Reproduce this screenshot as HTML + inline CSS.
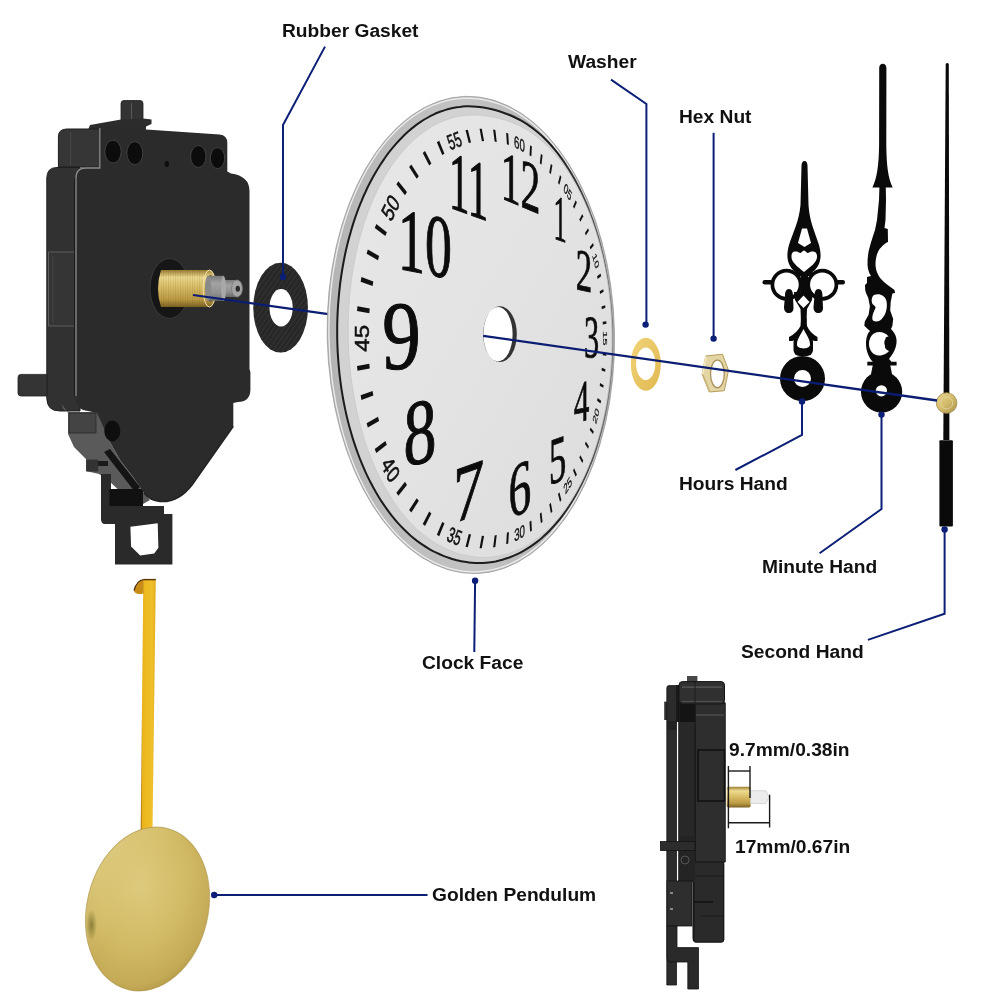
<!DOCTYPE html>
<html><head><meta charset="utf-8"><style>
html,body{margin:0;padding:0;background:#fff}
body{width:1001px;height:1001px;position:relative;overflow:hidden}
svg{position:absolute;left:0;top:0;will-change:transform}
.sn{font-family:"Liberation Sans",sans-serif;font-size:17px;fill:#111;stroke:#111;stroke-width:0.45px}
.bn{font-family:"Liberation Serif",serif;fill:#0c0c0c;stroke:#0c0c0c;stroke-width:0.9px}
.lbl{position:absolute;font-family:"Liberation Sans",sans-serif;font-weight:bold;font-size:19.2px;color:#111;white-space:nowrap;line-height:1;will-change:transform}
</style></head><body>
<svg width="1001" height="1001" viewBox="0 0 1001 1001">
<defs>
<linearGradient id="rimg" x1="0" y1="0" x2="1" y2="0">
 <stop offset="0" stop-color="#b4b4b4"/><stop offset="0.5" stop-color="#c4c4c4"/><stop offset="1" stop-color="#a9a9a9"/>
</linearGradient>
<linearGradient id="darkg" x1="330" y1="0" x2="615" y2="0" gradientUnits="userSpaceOnUse">
 <stop offset="0" stop-color="#1a1a1a"/><stop offset="0.8" stop-color="#1e1e1e"/><stop offset="0.93" stop-color="#555"/><stop offset="1" stop-color="#8a8a8a"/>
</linearGradient>
<linearGradient id="faceg" x1="0" y1="0" x2="1" y2="1">
 <stop offset="0" stop-color="#e7e7e7"/><stop offset="0.5" stop-color="#e3e3e3"/><stop offset="1" stop-color="#dcdcdc"/>
</linearGradient>
<linearGradient id="brass" x1="0" y1="0" x2="0" y2="1">
 <stop offset="0" stop-color="#9a7c30"/><stop offset="0.2" stop-color="#eedc92"/><stop offset="0.45" stop-color="#dcc06a"/><stop offset="0.8" stop-color="#bc9a44"/><stop offset="1" stop-color="#7a6022"/>
</linearGradient>
<pattern id="gstripe" width="4" height="4" patternUnits="userSpaceOnUse" patternTransform="rotate(35)"><rect width="1.2" height="4" fill="#3a3a3a" opacity="0.6"/></pattern>
<pattern id="thr" width="2.4" height="10" patternUnits="userSpaceOnUse"><rect width="1" height="10" fill="#6a5418" opacity="0.18"/></pattern>
<linearGradient id="gshaft" x1="0" y1="0" x2="0" y2="1">
 <stop offset="0" stop-color="#7a7a7a"/><stop offset="0.3" stop-color="#a2a2a2"/><stop offset="0.7" stop-color="#909090"/><stop offset="1" stop-color="#6a6a6a"/>
</linearGradient>
<linearGradient id="rod" x1="0" y1="0" x2="1" y2="0">
 <stop offset="0" stop-color="#8a5a08"/><stop offset="0.1" stop-color="#e8b21c"/><stop offset="0.3" stop-color="#ecb820"/><stop offset="0.75" stop-color="#f0c02a"/><stop offset="1" stop-color="#e2ac1c"/>
</linearGradient>
<radialGradient id="bob" cx="0.42" cy="0.38" r="0.7">
 <stop offset="0" stop-color="#ddc97c"/><stop offset="0.5" stop-color="#d2bb66"/><stop offset="0.85" stop-color="#c4aa56"/><stop offset="1" stop-color="#aa9242"/>
</radialGradient>
<linearGradient id="bobhl" x1="0" y1="0" x2="1" y2="0.6">
 <stop offset="0" stop-color="#f2e6b0" stop-opacity="0.55"/><stop offset="0.25" stop-color="#ecdc9c" stop-opacity="0.25"/><stop offset="0.5" stop-color="#e8d890" stop-opacity="0"/>
</linearGradient>
<radialGradient id="bobspot" cx="0.5" cy="0.5" r="0.5">
 <stop offset="0" stop-color="#5e5818" stop-opacity="0.6"/><stop offset="1" stop-color="#5e5818" stop-opacity="0"/>
</radialGradient>
<linearGradient id="wash" x1="0" y1="0" x2="1" y2="1">
 <stop offset="0" stop-color="#f2d47a"/><stop offset="1" stop-color="#e0b850"/>
</linearGradient>
<linearGradient id="hub2" x1="0" y1="0" x2="1" y2="1">
 <stop offset="0" stop-color="#e6d490"/><stop offset="0.5" stop-color="#d4bc6c"/><stop offset="1" stop-color="#a8904a"/>
</linearGradient>
</defs>

<!-- ===== big movement ===== -->
<g id="mov">
 <!-- knob & ledge -->
 <rect x="121" y="100.5" width="22" height="24" rx="3" fill="#333" stroke="#1e1e1e" stroke-width="0.8"/>
 <line x1="131.5" y1="103" x2="131.5" y2="119" stroke="#5a5a5a" stroke-width="1"/>
 <path d="M88,130 L90,125 L121,119.5 L143,118.5 L151.5,119.5 L151.5,124 L146,126.5 L146,131 Z" fill="#2c2c2c"/>
 <!-- upper-left block -->
 <path d="M58.4,167 L58.4,137 Q58.4,129 67,129 L101,129 L101,167 Z" fill="#363636" stroke="#1e1e1e" stroke-width="1"/>
 <line x1="70.5" y1="132" x2="70.5" y2="165" stroke="#4a4a4a" stroke-width="0.8"/>
 <!-- left side body -->
 <path d="M46.8,398 L46.8,178 Q46.8,167.5 57,167.5 L80,167.5 L80,411 L60,411 Q46.8,411 46.8,398 Z" fill="#313131" stroke="#1e1e1e" stroke-width="1"/>
 <path d="M48.5,252 L80,252 L80,326 L48.5,326 Z" fill="#353535" stroke="#5e5e5e" stroke-width="1"/>
 <line x1="53" y1="256" x2="53" y2="322" stroke="#4c4c4c" stroke-width="0.8"/>
 <!-- left tab -->
 <path d="M47,374.4 L21,374.4 Q18,374.4 18,377.4 L18,393 Q18,396 21,396 L47,396 Z" fill="#343434" stroke="#222" stroke-width="0.8"/>
 <!-- lower gray bits -->
 <path d="M62,404 Q62,412 72,412 L97,412 L108.8,440 L120,460 L132.8,476.8 L144,493 L150,500 L143,504 L126,497 L108,480 L99,474 L86,471 L86,459 L74,447 L68,434 L68,413 Z" fill="#5a5a5a"/>
 <path d="M69,413 L96,413 L96,433 L69,433 Z" fill="#444" stroke="#2a2a2a" stroke-width="0.8"/>
 <path d="M104,452 L110,449 L140,487 L135,492 Z" fill="#141414"/>
 <path d="M97,461 L108,461 L108,466 L97,466 Z" fill="#1a1a1a"/>
 <!-- hanger -->
 <path d="M101,474 L111,474 L111,506 L164,506 L164,514 L172.4,514 L172.4,564.6 L115,564.6 L115,524 L105,524 Q101,524 101,519 Z" fill="#2a2a2a"/>
 <path d="M130.4,526.8 L157.7,523.3 L158.4,547.8 L154.2,553.4 L140.2,555.5 L131.1,546.4 Z" fill="#fff"/>
 <path d="M109.4,489 L143,489 L143,506 L109.4,506 Z" fill="#111"/>
 <path d="M86.3,459.6 L98.2,459.6 L98.2,471.5 L86.3,471.5 Z" fill="#333"/>
 <!-- front plate -->
 <path d="M99,127 L150,129.8 L219.5,134.6 Q227.3,135.5 227.3,143 L227.3,171.5 L231,173.5 Q249.5,176 249.5,191 L249.5,369 L250.4,372 L250.4,390 Q250,402 237.8,402 L233.3,403 L233.3,426.3 L192,485 Q178,503 160,501.5 Q150,500.5 144,493 L132.8,476.8 L120,460 L108.8,440 L97,413 L88,411 Q75.5,410 75.5,397 L75.5,177 Q75.5,167 85,167 L99,167 Z" fill="#2b2b2b"/>
 <path d="M76,396 L76,178 Q76,168 86,168 L99.8,168 L99.8,128" fill="none" stroke="#8a8a8a" stroke-width="1.3"/>
 <path d="M74.5,178 L74.5,396" stroke="#1a1a1a" stroke-width="1"/>
 <path d="M233.3,426.3 L192,485 Q178,503 160,501.5 Q150,500.5 144,493" fill="none" stroke="#222" stroke-width="1.5"/>
<!-- holes -->
 <ellipse cx="113" cy="151.6" rx="8.2" ry="11.4" fill="#0c0c0c" stroke="#4a4a4a" stroke-width="0.8"/>
 <ellipse cx="134.8" cy="153.2" rx="8" ry="11.5" fill="#0c0c0c" stroke="#4a4a4a" stroke-width="0.8"/>
 <ellipse cx="198.3" cy="156.5" rx="7.7" ry="11" fill="#0c0c0c" stroke="#4a4a4a" stroke-width="0.8"/>
 <ellipse cx="217.5" cy="158.1" rx="7.2" ry="10.5" fill="#0c0c0c" stroke="#4a4a4a" stroke-width="0.8"/>
 <ellipse cx="166.8" cy="164" rx="2.2" ry="3" fill="#0e0e0e"/>
 <ellipse cx="112.3" cy="431" rx="8" ry="10.4" fill="#0e0e0e"/>
 <!-- shaft collar -->
 <ellipse cx="169.5" cy="288.5" rx="19.5" ry="30" fill="#161616" stroke="#3c3c3c" stroke-width="0.9"/>
 <!-- brass -->
 <path d="M161,270 L209,270 L209,307 L161,307 Q155,288.5 161,270 Z" fill="url(#brass)"/>
 <path d="M161,270 L209,270 L209,307 L161,307 Q155,288.5 161,270 Z" fill="url(#thr)"/>
 <ellipse cx="209.5" cy="288.5" rx="6.5" ry="18.5" fill="url(#brass)"/>
 <ellipse cx="209.5" cy="288.5" rx="6.5" ry="18.5" fill="none" stroke="#f2e4b0" stroke-width="1"/>
 <ellipse cx="210.5" cy="288.5" rx="4" ry="13.5" fill="#6a5a30"/>
 <!-- gray shaft -->
 <path d="M208,275.8 L224,275.8 L224,300.8 L208,300.8 Z" fill="url(#gshaft)"/>
 <ellipse cx="208" cy="288.3" rx="3" ry="12.5" fill="#8a8a8a"/>
 <path d="M222.7,280 L237,280 L237,297 L222.7,297 Z" fill="url(#gshaft)"/>
 <ellipse cx="223.5" cy="288.4" rx="2.5" ry="12.4" fill="#a8a8a8"/>
 <ellipse cx="237" cy="288.5" rx="5.4" ry="8.5" fill="#a4a4a4" stroke="#7a7a7a" stroke-width="0.8"/>
 <ellipse cx="237.8" cy="288.8" rx="2.2" ry="3" fill="#2a2a2a"/>
</g>

<!-- ===== gasket ===== -->
<ellipse cx="280.6" cy="307.7" rx="27.3" ry="44.85" fill="#272727"/>
<ellipse cx="280.6" cy="307.7" rx="27.3" ry="44.85" fill="url(#gstripe)"/>
<ellipse cx="281.1" cy="307.7" rx="11.6" ry="18.7" fill="#fff"/>

<!-- main axis line (left segment) -->
<line x1="193" y1="295" x2="330" y2="314.3" stroke="#0b1d72" stroke-width="2.2"/>

<!-- ===== clock face rim ===== -->

<ellipse cx="470.84" cy="334.96" rx="143.64" ry="238.68" transform="rotate(-1.17 470.84 334.96)" fill="url(#rimg)" stroke="#9a9a9a" stroke-width="0.8"/>
<ellipse cx="470.84" cy="334.96" rx="141.9" ry="236.9" transform="rotate(-1.17 470.84 334.96)" fill="none" stroke="#ececec" stroke-width="1.3"/>
<path d="M612.5,332.1 C612.4,327.9 612.2,323.8 612.0,319.6 C611.8,315.5 611.5,311.4 611.1,307.3 C610.7,303.2 610.3,299.1 609.8,295.0 C609.3,290.9 608.8,286.8 608.2,282.8 C607.6,278.8 606.9,274.7 606.1,270.8 C605.4,266.8 604.6,262.8 603.7,258.9 C602.8,255.0 601.9,251.1 600.9,247.3 C599.9,243.4 598.9,239.6 597.8,235.9 C596.6,232.1 595.5,228.4 594.3,224.8 C593.0,221.1 591.8,217.5 590.4,214.0 C589.1,210.4 587.7,206.9 586.3,203.5 C584.8,200.1 583.3,196.7 581.8,193.4 C580.3,190.1 578.7,186.9 577.0,183.7 C575.4,180.6 573.7,177.5 571.9,174.5 C570.2,171.5 568.4,168.5 566.5,165.7 C564.7,162.8 562.8,160.1 560.8,157.4 C558.9,154.7 556.9,152.2 554.8,149.7 C552.8,147.2 550.7,144.8 548.6,142.5 C546.5,140.3 544.3,138.1 542.1,136.0 C539.9,134.0 537.6,132.0 535.3,130.2 C533.1,128.4 530.7,126.7 528.4,125.1 C526.0,123.5 523.7,122.1 521.3,120.7 C518.9,119.4 516.5,118.2 514.1,117.0 C511.8,115.9 509.4,114.9 507.0,114.0 C504.7,113.1 502.3,112.3 500.0,111.5 C497.7,110.8 495.4,110.1 493.1,109.5 C490.8,108.9 488.5,108.4 486.3,108.0 C484.0,107.5 481.8,107.2 479.5,106.9 C477.3,106.6 475.1,106.5 472.8,106.4 C470.6,106.3 468.4,106.2 466.2,106.3 C464.0,106.4 461.7,106.6 459.5,106.9 C457.3,107.1 455.1,107.5 452.9,107.9 C450.7,108.4 448.6,109.0 446.4,109.6 C444.2,110.2 442.0,111.0 439.9,111.8 C437.7,112.7 435.5,113.6 433.4,114.6 C431.2,115.6 429.1,116.8 427.0,118.0 C424.8,119.2 422.7,120.5 420.6,121.9 C418.5,123.3 416.4,124.8 414.4,126.4 C412.3,128.0 410.3,129.7 408.2,131.5 C406.2,133.3 404.2,135.2 402.2,137.2 C400.3,139.2 398.3,141.2 396.4,143.4 C394.5,145.6 392.6,147.8 390.7,150.2 C388.9,152.5 387.0,154.9 385.2,157.5 C383.5,160.0 381.7,162.6 380.0,165.2 C378.3,167.9 376.6,170.7 375.0,173.5 C373.3,176.4 371.7,179.3 370.2,182.3 C368.6,185.3 367.1,188.3 365.7,191.5 C364.2,194.6 362.8,197.8 361.5,201.1 C360.1,204.3 358.8,207.7 357.5,211.1 C356.3,214.4 355.1,217.9 353.9,221.4 C352.8,224.9 351.7,228.5 350.7,232.1 C349.6,235.7 348.6,239.4 347.7,243.1 C346.8,246.8 345.9,250.5 345.1,254.3 C344.3,258.1 343.6,261.9 342.9,265.8 C342.2,269.6 341.6,273.5 341.0,277.5 C340.4,281.4 339.9,285.3 339.5,289.3 C339.1,293.3 338.7,297.3 338.4,301.3 C338.0,305.3 337.8,309.3 337.6,313.4 C337.4,317.4 337.3,321.5 337.2,325.5 C337.2,329.6 337.2,333.6 337.2,337.7 C337.3,341.7 337.4,345.8 337.6,349.9 C337.8,353.9 338.1,358.0 338.4,362.0 C338.7,366.0 339.1,370.1 339.5,374.1 C340.0,378.1 340.5,382.0 341.0,386.0 C341.6,390.0 342.3,393.9 342.9,397.8 C343.6,401.7 344.4,405.6 345.2,409.4 C346.0,413.3 346.9,417.1 347.9,420.9 C348.8,424.6 349.8,428.3 350.9,432.0 C351.9,435.7 353.0,439.3 354.2,442.9 C355.4,446.5 356.6,450.0 357.9,453.5 C359.2,457.0 360.5,460.4 361.9,463.7 C363.3,467.1 364.7,470.4 366.2,473.6 C367.7,476.8 369.3,479.9 370.9,483.0 C372.5,486.1 374.1,489.1 375.8,492.0 C377.5,494.9 379.2,497.8 381.0,500.6 C382.8,503.3 384.6,506.0 386.5,508.6 C388.3,511.2 390.2,513.7 392.1,516.1 C394.1,518.6 396.0,520.9 398.0,523.1 C400.0,525.4 402.1,527.5 404.1,529.5 C406.2,531.6 408.3,533.5 410.4,535.4 C412.5,537.2 414.6,538.9 416.7,540.6 C418.9,542.2 421.0,543.8 423.2,545.2 C425.4,546.7 427.6,548.0 429.7,549.3 C431.9,550.5 434.1,551.7 436.3,552.7 C438.5,553.8 440.7,554.8 442.8,555.6 C445.0,556.5 447.2,557.3 449.4,558.0 C451.5,558.8 453.7,559.4 455.9,560.0 C458.1,560.5 460.2,561.0 462.4,561.4 C464.6,561.8 466.7,562.2 468.9,562.4 C471.1,562.7 473.3,562.8 475.5,562.9 C477.7,563.0 479.9,563.0 482.1,562.9 C484.3,562.8 486.6,562.7 488.8,562.4 C491.1,562.1 493.3,561.8 495.6,561.4 C497.9,560.9 500.1,560.4 502.4,559.7 C504.7,559.1 507.0,558.3 509.3,557.5 C511.6,556.6 513.9,555.7 516.2,554.6 C518.5,553.6 520.8,552.4 523.1,551.1 C525.4,549.8 527.7,548.4 530.0,546.9 C532.2,545.4 534.5,543.8 536.7,542.1 C539.0,540.4 541.2,538.6 543.3,536.6 C545.5,534.7 547.6,532.6 549.7,530.5 C551.8,528.3 553.9,526.1 555.9,523.7 C558.0,521.3 559.9,518.9 561.9,516.3 C563.8,513.8 565.7,511.1 567.6,508.4 C569.4,505.7 571.2,502.9 572.9,500.0 C574.7,497.1 576.4,494.1 578.0,491.0 C579.7,488.0 581.3,484.8 582.8,481.6 C584.4,478.4 585.9,475.1 587.3,471.8 C588.8,468.4 590.1,465.0 591.5,461.6 C592.8,458.1 594.0,454.5 595.3,451.0 C596.5,447.4 597.6,443.7 598.7,440.0 C599.8,436.3 600.8,432.6 601.8,428.8 C602.7,425.0 603.6,421.2 604.5,417.3 C605.3,413.4 606.1,409.5 606.8,405.5 C607.5,401.6 608.2,397.6 608.7,393.6 C609.3,389.6 609.8,385.5 610.3,381.5 C610.7,377.4 611.1,373.3 611.4,369.2 C611.7,365.1 612.0,361.0 612.2,356.9 C612.4,352.8 612.5,348.6 612.5,344.5 C612.6,340.4 612.5,336.2 612.5,332.1Z" fill="#d2d2d2" stroke="url(#darkg)" stroke-width="2"/>
<path d="M611.9,332.1 C611.8,327.9 611.6,323.8 611.4,319.7 C611.2,315.5 610.9,311.4 610.6,307.3 C610.2,303.2 609.8,299.1 609.3,295.0 C608.8,291.0 608.3,286.9 607.7,282.9 C607.1,278.8 606.4,274.8 605.6,270.8 C604.9,266.9 604.1,262.9 603.2,259.0 C602.3,255.1 601.4,251.2 600.4,247.4 C599.4,243.6 598.3,239.8 597.2,236.1 C596.1,232.3 594.9,228.6 593.6,225.0 C592.4,221.4 591.1,217.8 589.7,214.2 C588.3,210.7 586.9,207.3 585.4,203.9 C583.9,200.5 582.4,197.1 580.8,193.9 C579.2,190.6 577.5,187.4 575.8,184.3 C574.1,181.2 572.3,178.2 570.5,175.3 C568.6,172.4 566.8,169.5 564.8,166.7 C562.9,164.0 560.9,161.3 558.9,158.8 C556.8,156.2 554.7,153.8 552.6,151.4 C550.5,149.1 548.3,146.8 546.1,144.7 C543.9,142.6 541.6,140.6 539.3,138.7 C537.1,136.8 534.7,135.0 532.4,133.4 C530.1,131.7 527.7,130.2 525.3,128.9 C522.9,127.5 520.5,126.3 518.2,125.1 C515.8,124.0 513.4,123.0 511.0,122.1 C508.7,121.3 506.4,120.5 504.1,119.8 C501.8,119.1 499.5,118.5 497.3,118.0 C495.1,117.5 492.9,117.0 490.7,116.6 C488.6,116.2 486.5,115.9 484.4,115.7 C482.3,115.4 480.3,115.3 478.3,115.1 C476.2,115.0 474.2,115.0 472.3,115.0 C470.3,115.1 468.3,115.2 466.4,115.3 C464.4,115.5 462.5,115.7 460.5,116.1 C458.6,116.4 456.7,116.8 454.8,117.2 C452.8,117.7 450.9,118.3 449.0,118.9 C447.1,119.5 445.2,120.2 443.3,121.0 C441.4,121.7 439.5,122.6 437.6,123.5 C435.7,124.5 433.8,125.5 431.9,126.6 C430.0,127.7 428.1,128.9 426.2,130.2 C424.3,131.5 422.4,132.9 420.5,134.4 C418.6,135.8 416.7,137.4 414.9,139.1 C413.0,140.7 411.2,142.4 409.3,144.3 C407.5,146.1 405.7,148.0 403.9,150.1 C402.1,152.1 400.3,154.2 398.5,156.4 C396.8,158.6 395.1,160.9 393.4,163.2 C391.7,165.6 390.0,168.1 388.4,170.6 C386.8,173.2 385.2,175.8 383.6,178.5 C382.1,181.2 380.6,184.0 379.1,186.9 C377.6,189.7 376.2,192.7 374.8,195.7 C373.4,198.7 372.1,201.8 370.8,204.9 C369.5,208.1 368.3,211.3 367.1,214.6 C365.9,217.8 364.8,221.2 363.7,224.6 C362.6,228.0 361.6,231.4 360.6,234.9 C359.6,238.4 358.7,242.0 357.8,245.5 C357.0,249.1 356.2,252.8 355.4,256.5 C354.7,260.1 354.0,263.8 353.3,267.6 C352.7,271.3 352.1,275.1 351.6,278.9 C351.1,282.7 350.6,286.6 350.2,290.4 C349.8,294.3 349.4,298.2 349.2,302.1 C348.9,306.0 348.7,309.9 348.5,313.8 C348.3,317.8 348.2,321.7 348.2,325.6 C348.1,329.6 348.2,333.5 348.2,337.5 C348.3,341.4 348.4,345.4 348.6,349.3 C348.8,353.2 349.1,357.2 349.4,361.1 C349.7,365.0 350.1,368.9 350.5,372.8 C350.9,376.7 351.4,380.5 352.0,384.4 C352.5,388.2 353.1,392.0 353.8,395.8 C354.5,399.6 355.2,403.4 356.0,407.1 C356.7,410.8 357.6,414.5 358.5,418.2 C359.3,421.8 360.3,425.4 361.3,429.0 C362.3,432.6 363.3,436.1 364.4,439.5 C365.6,443.0 366.7,446.4 367.9,449.8 C369.1,453.1 370.4,456.4 371.7,459.7 C373.0,462.9 374.3,466.1 375.7,469.2 C377.1,472.3 378.6,475.3 380.1,478.3 C381.5,481.3 383.1,484.2 384.6,487.0 C386.2,489.8 387.8,492.6 389.5,495.2 C391.1,497.9 392.8,500.5 394.5,503.0 C396.2,505.5 398.0,507.9 399.7,510.2 C401.5,512.6 403.3,514.8 405.2,517.0 C407.0,519.1 408.9,521.2 410.7,523.2 C412.6,525.1 414.5,527.0 416.4,528.8 C418.3,530.6 420.3,532.3 422.2,533.8 C424.2,535.4 426.1,536.9 428.1,538.3 C430.0,539.8 432.0,541.1 434.0,542.3 C435.9,543.5 437.9,544.7 439.9,545.7 C441.8,546.8 443.8,547.8 445.8,548.7 C447.7,549.6 449.7,550.4 451.6,551.2 C453.6,552.0 455.5,552.6 457.5,553.3 C459.5,553.9 461.4,554.5 463.4,554.9 C465.4,555.4 467.3,555.9 469.3,556.2 C471.3,556.6 473.3,556.9 475.4,557.1 C477.4,557.3 479.5,557.4 481.5,557.5 C483.6,557.5 485.7,557.5 487.8,557.4 C490.0,557.3 492.1,557.1 494.3,556.8 C496.5,556.5 498.7,556.1 500.9,555.6 C503.1,555.1 505.4,554.6 507.6,553.9 C509.9,553.2 512.2,552.4 514.4,551.5 C516.7,550.5 519.0,549.5 521.3,548.4 C523.6,547.2 525.9,546.0 528.2,544.6 C530.5,543.2 532.7,541.8 535.0,540.1 C537.2,538.5 539.5,536.8 541.7,535.0 C543.9,533.1 546.1,531.2 548.2,529.1 C550.4,527.1 552.5,524.9 554.5,522.6 C556.6,520.3 558.6,517.9 560.6,515.4 C562.6,512.9 564.5,510.4 566.4,507.7 C568.3,505.0 570.1,502.2 571.9,499.4 C573.7,496.5 575.4,493.5 577.1,490.5 C578.7,487.5 580.4,484.4 581.9,481.2 C583.5,478.0 585.0,474.8 586.4,471.4 C587.9,468.1 589.3,464.7 590.6,461.3 C592.0,457.8 593.2,454.3 594.4,450.7 C595.7,447.1 596.8,443.5 597.9,439.8 C599.0,436.1 600.0,432.4 601.0,428.6 C602.0,424.8 602.9,421.0 603.7,417.1 C604.6,413.3 605.4,409.4 606.1,405.4 C606.8,401.5 607.4,397.5 608.0,393.5 C608.6,389.5 609.1,385.5 609.6,381.4 C610.0,377.4 610.4,373.3 610.8,369.2 C611.1,365.1 611.3,361.0 611.5,356.9 C611.7,352.8 611.8,348.6 611.9,344.5 C611.9,340.4 611.9,336.2 611.9,332.1Z" fill="url(#faceg)" stroke="#c8c8c8" stroke-width="0.8"/>

</svg>

<svg width="1001" height="1001" viewBox="0 0 1001 1001"><g fill="#111">
<polygon points="529.51,155.30 530.12,145.17 531.93,146.47 531.33,156.55"/>
<polygon points="539.77,163.22 540.91,153.83 542.59,155.37 541.46,164.72"/>
<polygon points="549.27,172.48 550.87,163.85 552.41,165.59 550.82,174.19"/>
<polygon points="557.99,182.90 559.99,175.03 561.39,176.94 559.40,184.79"/>
<polygon points="573.05,206.56 575.68,200.21 576.81,202.40 574.19,208.73"/>
<polygon points="579.40,219.52 582.27,213.92 583.26,216.21 580.41,221.80"/>
<polygon points="584.97,233.07 588.05,228.22 588.91,230.59 585.85,235.45"/>
<polygon points="589.77,247.11 593.02,242.99 593.75,245.42 590.52,249.56"/>
<polygon points="597.13,276.31 600.61,273.61 601.09,276.14 597.62,278.88"/>
<polygon points="599.70,291.32 603.26,289.30 603.62,291.87 600.07,293.92"/>
<polygon points="601.55,306.51 605.17,305.17 605.41,307.76 601.79,309.13"/>
<polygon points="602.68,321.81 606.33,321.16 606.45,323.76 602.80,324.45"/>
<polygon points="602.80,352.55 606.45,353.24 606.33,355.84 602.68,355.19"/>
<polygon points="601.79,367.87 605.41,369.24 605.17,371.83 601.55,370.49"/>
<polygon points="600.07,383.08 603.62,385.13 603.26,387.70 599.70,385.68"/>
<polygon points="597.62,398.12 601.09,400.86 600.61,403.39 597.13,400.69"/>
<polygon points="590.52,427.44 593.75,431.58 593.02,434.01 589.77,429.89"/>
<polygon points="585.85,441.55 588.91,446.41 588.05,448.78 584.97,443.93"/>
<polygon points="580.41,455.20 583.26,460.79 582.27,463.08 579.40,457.48"/>
<polygon points="574.19,468.27 576.81,474.60 575.68,476.79 573.05,470.44"/>
<polygon points="559.40,492.21 561.39,500.06 559.99,501.97 557.99,494.10"/>
<polygon points="550.82,502.81 552.41,511.41 550.87,513.15 549.27,504.52"/>
<polygon points="541.46,512.28 542.59,521.63 540.91,523.17 539.77,513.78"/>
<polygon points="531.33,520.45 531.93,530.53 530.12,531.83 529.51,521.70"/>
<polygon points="508.92,532.07 508.24,543.47 506.18,544.20 506.87,532.73"/>
<polygon points="496.76,535.08 495.32,547.05 493.16,547.42 494.62,535.39"/>
<polygon points="484.09,535.94 481.80,548.35 479.56,548.33 481.88,535.85"/>
<polygon points="471.04,534.41 467.83,547.13 465.52,546.67 468.77,533.89"/>
<polygon points="444.47,523.37 439.21,536.15 436.88,534.72 442.21,521.89"/>
<polygon points="431.39,513.53 425.02,525.99 422.76,524.04 429.19,511.54"/>
<polygon points="418.78,500.70 411.31,512.57 409.15,510.08 416.69,498.20"/>
<polygon points="406.95,484.88 398.38,495.86 396.38,492.84 405.01,481.87"/>
<polygon points="386.81,444.80 376.29,453.08 374.78,449.11 385.36,440.88"/>
<polygon points="379.11,421.09 367.81,427.59 366.62,423.24 377.97,416.81"/>
<polygon points="373.34,395.49 361.45,399.99 360.63,395.34 372.56,390.94"/>
<polygon points="369.72,368.55 357.44,370.87 357.03,366.04 369.32,363.83"/>
<polygon points="369.32,313.17 357.03,310.96 357.44,306.13 369.72,308.45"/>
<polygon points="372.56,286.06 360.63,281.66 361.45,277.01 373.34,281.51"/>
<polygon points="377.97,260.19 366.62,253.76 367.81,249.41 379.11,255.91"/>
<polygon points="385.36,236.12 374.78,227.89 376.29,223.92 386.81,232.20"/>
<polygon points="405.01,195.13 396.38,184.16 398.38,181.14 406.95,192.12"/>
<polygon points="416.69,178.80 409.15,166.92 411.31,164.43 418.78,176.30"/>
<polygon points="429.19,165.46 422.76,152.96 425.02,151.01 431.39,163.47"/>
<polygon points="442.21,155.11 436.88,142.28 439.21,140.85 444.47,153.63"/>
<polygon points="468.77,143.11 465.52,130.33 467.83,129.87 471.04,142.59"/>
<polygon points="481.88,141.15 479.56,128.67 481.80,128.65 484.09,141.06"/>
<polygon points="494.62,141.61 493.16,129.58 495.32,129.95 496.76,141.92"/>
<polygon points="506.87,144.27 506.18,132.80 508.24,133.53 508.92,144.93"/>
<text x="-9.40" y="5.87" transform="matrix(0.43197,0.19449,0.00000,0.87109,525.717,319.585) translate(97.25,-168.44) rotate(30)" class="sn">05</text>
<text x="-9.74" y="5.87" transform="matrix(0.36068,0.09376,0.00000,0.79598,535.072,322.707) translate(168.44,-97.25) rotate(60)" class="sn">10</text>
<text x="-9.74" y="5.78" transform="matrix(0.33895,0.00000,0.00000,0.77162,539.012,338.500) translate(194.50,-0.00) rotate(90)" class="sn">15</text>
<text x="-9.57" y="5.87" transform="matrix(0.36068,-0.09376,0.00000,0.79598,535.072,354.293) translate(168.44,97.25) rotate(-60)" class="sn">20</text>
<text x="-9.57" y="5.87" transform="matrix(0.43197,-0.19449,0.00000,0.87109,525.717,357.415) translate(97.25,168.44) rotate(-30)" class="sn">25</text>
<text x="-9.40" y="5.87" transform="matrix(0.56928,-0.29597,0.00000,1.00000,519.500,338.500) translate(0.00,194.50) rotate(0)" class="sn">30</text>
<text x="-9.40" y="5.87" transform="matrix(0.78421,-0.35309,0.00000,1.17369,530.786,304.162) translate(-97.25,168.44) rotate(30)" class="sn">35</text>
<text x="-9.32" y="5.87" transform="matrix(1.02932,-0.26758,0.00000,1.34466,563.941,293.429) translate(-168.44,97.25) rotate(60)" class="sn">40</text>
<text x="-9.32" y="5.87" transform="matrix(1.14854,-0.00000,0.00000,1.42040,585.617,338.500) translate(-194.50,0.00) rotate(270)" class="sn">45</text>
<text x="-9.49" y="5.87" transform="matrix(1.02932,0.26758,0.00000,1.34466,563.941,383.571) translate(-168.44,-97.25) rotate(300)" class="sn">50</text>
<text x="-9.49" y="5.78" transform="matrix(0.78421,0.35309,0.00000,1.17369,530.786,372.838) translate(-97.25,-168.44) rotate(330)" class="sn">55</text>
<text x="-9.57" y="5.87" transform="matrix(0.56928,0.29597,0.00000,1.00000,519.500,338.500) translate(-0.00,-194.50) rotate(360)" class="sn">60</text>
<text transform="matrix(0.56428,0.23485,0.00000,0.99560,519.507,337.817) translate(-33.21,-132.49) scale(0.982,1)" font-size="71.42" class="bn">12</text>
<text transform="matrix(0.73323,0.26182,0.00000,1.13490,526.308,358.951) translate(-105.42,-109.31) scale(0.755,1)" font-size="73.57" class="bn">11</text>
<text transform="matrix(0.45183,0.16176,0.00000,0.89089,523.954,325.481) translate(65.30,-109.86) scale(0.801,1)" font-size="72.94" class="bn">1</text>
<text transform="matrix(0.39019,0.08441,0.00000,0.82789,530.581,326.968) translate(115.98,-57.54) scale(1.170,1)" font-size="71.98" class="bn">2</text>
<text transform="matrix(0.37087,0.00060,0.00000,0.80714,533.415,338.406) translate(136.28,23.29) scale(1.090,1)" font-size="74.66" class="bn">3</text>
<text transform="matrix(0.39574,-0.08092,0.00000,0.83376,529.838,349.102) translate(111.27,99.00) scale(1.123,1)" font-size="70.34" class="bn">4</text>
<text transform="matrix(0.45836,-0.16702,0.00000,0.89731,523.445,351.061) translate(55.61,159.59) scale(1.021,1)" font-size="73.87" class="bn">5</text>
<text transform="matrix(0.56688,-0.22923,0.00000,0.99789,519.502,338.818) translate(-19.49,175.88) scale(1.044,1)" font-size="76.87" class="bn">6</text>
<text transform="matrix(0.73015,-0.26430,0.00000,1.13251,526.069,318.178) translate(-99.71,157.88) scale(1.204,1)" font-size="70.19" class="bn">7</text>
<text transform="matrix(0.91247,-0.18305,0.00000,1.26604,545.978,313.223) translate(-156.14,98.50) scale(0.985,1)" font-size="73.29" class="bn">8</text>
<text transform="matrix(0.98662,0.00207,0.00000,1.31647,556.969,338.827) translate(-177.07,22.96) scale(1.050,1)" font-size="74.21" class="bn">9</text>
<text transform="matrix(0.88810,0.17682,0.00000,1.24902,542.698,361.667) translate(-162.83,-51.59) scale(0.847,1)" font-size="71.54" class="bn">10</text>
</g></svg>

<svg width="1001" height="1001" viewBox="0 0 1001 1001">
<!-- center hole -->
<ellipse cx="500" cy="334.2" rx="16.8" ry="27.9" fill="#333"/>
<ellipse cx="498" cy="334.2" rx="14.6" ry="27.2" fill="#fff"/>

<!-- ===== washer & nut ===== -->
<ellipse cx="645.8" cy="364.2" rx="15" ry="26.5" fill="url(#wash)"/>
<ellipse cx="645.7" cy="363.8" rx="9.6" ry="16.2" fill="#fff"/>
<path d="M705.7,356 L722.5,354.2 L728.5,370.4 L724.3,390.7 L709.3,392 L702.1,374 Z" fill="#e4d6a4" stroke="#b49c5c" stroke-width="1"/>
<path d="M702.6,374 L706,356.5" stroke="#f4ecc8" stroke-width="1.5"/>
<path d="M703,375 L709.5,391.5" stroke="#c8b47a" stroke-width="1.5"/>
<ellipse cx="717.4" cy="373.9" rx="6.9" ry="13.8" fill="#fff" stroke="#a89058" stroke-width="1.3"/>

<!-- ===== hours hand ===== -->
<g fill="#0a0a0a">
 <path d="M804.5,161 C806.5,161 807.5,163 807.5,166 L808.5,205 C809.5,222 815,232 819,245 C822,256 821,264 814,271 L794,271 C787,264 786,256 789,245 C793,232 799,222 800.5,205 L801.5,166 C801.5,163 802.5,161 804.5,161 Z"/>
 <circle cx="786.5" cy="284.7" r="14.1" fill="none" stroke="#0a0a0a" stroke-width="3.7"/>
 <circle cx="822.3" cy="284.7" r="14.1" fill="none" stroke="#0a0a0a" stroke-width="3.7"/>
 <rect x="762.5" y="280" width="10" height="4.4" rx="2.2"/>
 <rect x="835" y="280" width="10" height="4.4" rx="2.2"/>
 <rect x="800.5" y="266" width="7.5" height="30"/>
 <path d="M794,266 L814,266 L812,276 L796,276 Z"/>
 <path d="M794,292 L813,292 L812,300 L807,309 L806.5,322 L801,322 L800.5,309 L795,300 Z"/>
 <path d="M789,289 C792,289 793,292 793,296 L793.5,308 C793.5,312 791,313 789,313 C786,313 784,311 784,307 L785,296 C785,292 786,289 789,289 Z"/>
 <path d="M818.5,289 C821.5,289 822.5,292 822.5,296 L823,308 C823,312 820.5,313 818.5,313 C815.5,313 813.5,311 813.5,307 L814.5,296 C814.5,292 815.5,289 818.5,289 Z"/>
 <path d="M801,318 L806.5,318 L807,326 Q810,333 817.5,337 L817.5,341 Q812,341 810,339 L797,339 Q795,341 789,341 L789,337 Q797,333 800.5,326 Z"/>
 <rect x="793.5" y="336" width="19.5" height="20" rx="6"/>
 <circle cx="802.5" cy="378.6" r="22.5"/>
</g>
<g fill="#fff">
 <path d="M802,228.5 L807,228.5 L811,243 L804.5,247 L798,243 Z"/>
 <path d="M791.5,256 C791.5,252 794,251 796.5,251.5 C798,251.5 799,253 800.5,253 C801.5,253 802.5,250.5 804,250.5 C805.5,250.5 806.5,253 807.5,253 C809,253 810,251.5 811.5,251.5 C814,251 817,252 817,256 C817.5,262 811,266 804,272 C797,266 791,262 791.5,256 Z"/>
 <path d="M803.5,295.5 L809.5,302 L803.5,308 L797.5,302 Z"/>
 <path d="M803.5,329 C806,334 810.5,340 810,345 C809.5,349.5 797.5,349.5 797,345 C796.5,340 801,334 803.5,329 Z"/>
 <circle cx="802.5" cy="378.6" r="8.5"/>
</g>

<!-- ===== minute hand ===== -->
<g fill="#0a0a0a">
 <path d="M882.8,63.7 C885,63.7 886.4,65.5 886.4,68 L886.3,145 C886.5,165 888,178 892.7,187.5 L885.8,187.5 L886,200 L885.5,220 L884.5,228 L887.8,229 L888,242 C885,243 881,247 879,250 C877,253 875.5,259 875.5,264 C875.5,270 878,276 882,280 C885,283 890,287 894.5,290 L895,293 L892.4,293.5 L890.7,302 L890.2,310.5 L893.2,319 L892.4,325.7 L891,329 C894,332 896.6,336 896.6,341 C896.6,348 893,354 889,359 L891.5,361.8 L896.6,361.8 L896.6,365.6 L867.3,365.6 L867.3,361.8 L872.8,361.8 C869,358 866,351 866,344 C866,338 867.5,333 870,331 L867.7,329 L864.3,325.7 L864.8,321.5 L868.6,314.7 L869.9,306.2 L868.2,297.7 L866,293 L865.2,290 L865,285 L867,283 L867,277 L871,276 C869,273 868,270 867.5,265 C867.5,258 868,252 870,246 C872,239 874,233 875,230 L877,220 L879,200 L879.4,187.5 L872.4,187.5 C877,178 878.8,165 879.1,145 L879.2,68 C879.2,65.5 880.6,63.7 882.8,63.7 Z"/>
 <path d="M873,364 L890,364 L892,374 L871,374 Z"/>
 <circle cx="881.6" cy="391.9" r="20.6"/>
</g>
<g fill="#fff">
 <path d="M874,295 C879,293 885,295 886.5,301 C888,309 885,317 880,320.5 C877,322 873,322 872.3,319 C872,315 874,311 875.5,308 C876,306.5 874,305.5 872.5,304 C871,301 871.5,297 874,295 Z"/>
 <path d="M879,332 C873,332 869,337.5 869,344 C869,350 873,355.5 879,355.5 C884,355.5 887.5,353 889,351 C886,350 884.5,348 885,345.5 C884,343.5 884,341 885.5,339 C885,337.5 886.5,336.5 888.5,336.5 C886.5,333.5 883,332 879,332 Z"/>
 <circle cx="881.4" cy="390.8" r="5.6"/>
</g>

<!-- ===== second hand ===== -->
<path d="M945.7,64 Q947.2,62 948.8,64 L949.4,440 L943.3,440 Z" fill="#0a0a0a"/>
<rect x="939.4" y="440.3" width="13.5" height="86.3" rx="1" fill="#0a0a0a"/>
<circle cx="946.6" cy="403" r="10.3" fill="url(#hub2)" stroke="#a08a48" stroke-width="0.8"/>
<circle cx="946.6" cy="403" r="6" fill="none" stroke="#e6d8a0" stroke-width="0.8"/>

<!-- main axis line (right segment) -->
<line x1="483.2" y1="335.8" x2="937" y2="400.5" stroke="#0b1d72" stroke-width="2.3"/>

<!-- ===== pendulum ===== -->
<path d="M143.3,579.5 L155.8,579.5 L152.5,830 L140.7,830 Z" fill="url(#rod)"/>
<path d="M143.6,579.5 C139,580 135.5,585 134,590.5 C134.5,593.5 137.5,595 143.6,593.5 Z" fill="#c88c16"/>
<path d="M143.6,579.5 C139,580 135.5,585 134,590.5" fill="none" stroke="#4a2a06" stroke-width="1.2"/>
<path d="M143.3,579.6 L155.8,579.6" stroke="#5a3206" stroke-width="1.4"/>
<g transform="rotate(13.3 147.5 909)">
 <ellipse cx="147.5" cy="909" rx="60.6" ry="83" fill="url(#bob)"/>
 <ellipse cx="147.5" cy="909" rx="60.6" ry="83" fill="url(#bobhl)"/>
 <ellipse cx="147.5" cy="909" rx="60.6" ry="83" fill="none" stroke="#a89040" stroke-width="1" opacity="0.6"/>
</g>
<ellipse cx="91.5" cy="925" rx="5.5" ry="16" fill="url(#bobspot)"/>
<!-- ===== small movement (side view) ===== -->
<g>
 <rect x="687" y="676" width="10.4" height="6" fill="#484848"/>
 <rect x="664.2" y="701.6" width="4" height="18.4" fill="#333"/>
 <path d="M666.8,985 L666.8,688 Q666.8,685.6 669,685.6 L676.5,685.6 L676.5,985 Z" fill="#2c2c2c" stroke="#161616" stroke-width="0.8"/>
 <rect x="667" y="721" width="9.5" height="9" fill="#222"/>
 <rect x="676" y="685" width="3.5" height="37" fill="#1a1a1a"/>
 <path d="M678.8,702.8 L725.2,702.8 L725.2,862 L723.7,862 L723.7,940 Q723.7,942 721,942 L695,942 Q693,942 693,938 L693,881 L678.8,881 Z" fill="#2a2a2a" stroke="#111" stroke-width="1"/>
 <rect x="679.5" y="704" width="15.5" height="18" fill="#141414"/>
 <rect x="679.5" y="722" width="15.3" height="158" fill="#282828"/>
 <rect x="695.5" y="704" width="29" height="157" fill="#2e2e2e"/>
 <line x1="696" y1="715" x2="724" y2="715" stroke="#555" stroke-width="1.2"/>
 <line x1="695.2" y1="704" x2="695.2" y2="861" stroke="#161616" stroke-width="1"/>
 <rect x="679" y="681.6" width="45.5" height="22.4" rx="3.5" fill="#303030" stroke="#141414" stroke-width="1"/>
 <line x1="682" y1="687.2" x2="722" y2="687.2" stroke="#5a5a5a" stroke-width="1.2"/>
 <line x1="682" y1="701.4" x2="722" y2="701.4" stroke="#555" stroke-width="1"/>
 <line x1="695" y1="682" x2="695" y2="703.5" stroke="#1c1c1c" stroke-width="1"/>
 <rect x="698" y="750" width="26.4" height="51" fill="#2e2e2e" stroke="#111" stroke-width="1.5"/>
 <rect x="694" y="862" width="29.7" height="80" rx="2" fill="#2a2a2a" stroke="#141414" stroke-width="1"/>
 <line x1="694" y1="876" x2="723.7" y2="876" stroke="#1a1a1a" stroke-width="1"/>
 <line x1="694" y1="902" x2="713" y2="902" stroke="#111" stroke-width="1.4"/>
 <line x1="700" y1="916" x2="723" y2="916" stroke="#1a1a1a" stroke-width="1"/>
 <rect x="680" y="836" width="15" height="46" fill="#242424"/>
 <rect x="660.4" y="841.6" width="34.6" height="9" fill="#2c2c2c" stroke="#141414" stroke-width="0.8"/>
 <circle cx="685" cy="860" r="4" fill="none" stroke="#555" stroke-width="1"/>
 <rect x="667" y="881" width="25" height="45" fill="#2e2e2e" stroke="#141414" stroke-width="0.8"/>
 <rect x="670" y="892" width="3" height="2" fill="#888"/>
 <rect x="670" y="908" width="3" height="2" fill="#888"/>
 <path d="M667,926 L677,926 L677,947.6 L698.5,947.6 L698.5,989 L687.8,989 L687.8,962 L670,962 Q667,962 667,958 Z" fill="#2a2a2a" stroke="#141414" stroke-width="0.8"/>
 <!-- shaft -->
 <rect x="726.7" y="786.7" width="24" height="20.8" rx="2" fill="url(#brass)"/>
 <path d="M750.7,790.7 L766,790.7 L769,797 L766,803.5 L750.7,803.5 Z" fill="#ececec" stroke="#d0d0d0" stroke-width="0.8"/>
 <!-- dimension lines -->
 <g stroke="#1a1a1a" stroke-width="1.4" fill="none">
  <line x1="728.4" y1="766" x2="728.4" y2="828.3"/>
  <line x1="750" y1="766" x2="750" y2="798"/>
  <line x1="728.4" y1="771" x2="750" y2="771"/>
  <line x1="769.6" y1="794.7" x2="769.6" y2="827.5"/>
  <line x1="728.4" y1="822.7" x2="769.6" y2="822.7"/>
 </g>
</g>

<!-- ===== leader lines ===== -->
<g stroke="#0c1f76" stroke-width="2" fill="none">
 <polyline points="325,46.6 283,125 283,277"/>
 <polyline points="611,79.6 646.4,104 646.4,324.6"/>
 <polyline points="713.6,132.8 713.6,338.6"/>
 <polyline points="802,401.4 802,435 735.4,470"/>
 <polyline points="881.5,414.6 881.5,509 819.6,553.2"/>
 <polyline points="944.6,529.5 944.6,613.7 867.9,639.9"/>
 <polyline points="475.1,580.8 474.3,652"/>
 <polyline points="214.2,895 427.5,895"/>
</g>
<g fill="#0c1f76">
 <circle cx="283" cy="277" r="3.2"/>
 <circle cx="645.6" cy="324.6" r="3.2"/>
 <circle cx="713.6" cy="338.6" r="3.2"/>
 <circle cx="802" cy="401.4" r="3.2"/>
 <circle cx="881.5" cy="414.6" r="3.2"/>
 <circle cx="944.6" cy="529.5" r="3.2"/>
 <circle cx="475.1" cy="580.8" r="3.2"/>
 <circle cx="214.2" cy="895" r="3.2"/>
</g>
</svg>

<div class="lbl" style="left:282px;top:21.2px">Rubber Gasket</div>
<div class="lbl" style="left:568px;top:52.4px">Washer</div>
<div class="lbl" style="left:679px;top:107px">Hex Nut</div>
<div class="lbl" style="left:679.4px;top:474px">Hours Hand</div>
<div class="lbl" style="left:762px;top:557.2px">Minute Hand</div>
<div class="lbl" style="left:740.5px;top:642.1px">Second Hand</div>
<div class="lbl" style="left:422.2px;top:653.1px">Clock Face</div>
<div class="lbl" style="left:432.2px;top:884.8px">Golden Pendulum</div>
<div class="lbl" style="left:728.7px;top:740px">9.7mm/0.38in</div>
<div class="lbl" style="left:734.6px;top:836.6px">17mm/0.67in</div>
</body></html>
